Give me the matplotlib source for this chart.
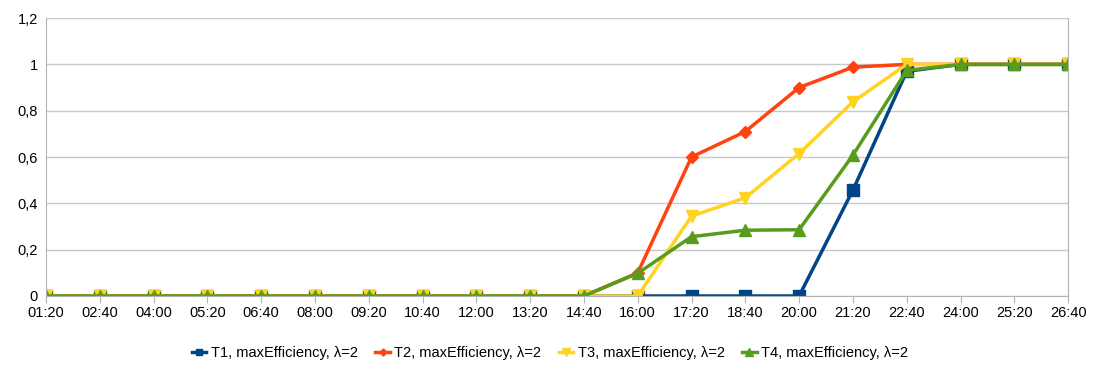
import matplotlib
matplotlib.use("Agg")
import matplotlib.pyplot as plt
from matplotlib.ticker import FuncFormatter

plt.rcParams['font.family'] = ['Liberation Sans', 'DejaVu Sans']

categories = ["01:20", "02:40", "04:00", "05:20", "06:40", "08:00", "09:20", "10:40",
              "12:00", "13:20", "14:40", "16:00", "17:20", "18:40", "20:00", "21:20",
              "22:40", "24:00", "25:20", "26:40"]
t1 = [0]*15 + [0.457, 0.97, 1, 1, 1]
t2 = [0]*11 + [0.1, 0.60, 0.71, 0.90, 0.988, 1, 1, 1, 1]
t3 = [0]*12 + [0.345, 0.424, 0.615, 0.838, 1, 1, 1, 1]
t4 = [0]*11 + [0.098, 0.256, 0.284, 0.286, 0.608, 0.974, 1, 1, 1]

series = [
    ("T1, maxEfficiency, λ=2", t1, "#004586", "s", 8),
    ("T2, maxEfficiency, λ=2", t2, "#ff420e", "D", 6),
    ("T3, maxEfficiency, λ=2", t3, "#ffd320", "v", 9),
    ("T4, maxEfficiency, λ=2", t4, "#579d1c", "^", 9),
]

fig = plt.figure(figsize=(11, 3.76), dpi=100)
ax = fig.add_axes([0.0418, 0.2128, 0.9292, 0.7392])
x = list(range(len(categories)))
for label, vals, color, mk, ms in series:
    ax.plot(x, vals, color=color, marker=mk, markersize=ms, linewidth=2.5, label=label)

ax.set_xlim(0, len(categories) - 1)
ax.set_ylim(0, 1.2)
ax.set_yticks([0, 0.2, 0.4, 0.6, 0.8, 1.0, 1.2])
ax.yaxis.set_major_formatter(FuncFormatter(lambda v, p: ("%g" % round(v, 1)).replace(".", ",")))
ax.set_xticks(x)
ax.set_xticklabels(categories)
ax.grid(axis='y', color='#c8c8c8', linewidth=1)
ax.set_axisbelow(True)
ax.spines['top'].set_visible(False)
for s in ['left', 'right', 'bottom']:
    ax.spines[s].set_color('#b3b3b3')
ax.tick_params(axis='y', length=0, labelsize=10.5, pad=6)
ax.tick_params(axis='x', length=5, color='#b3b3b3', labelsize=10.5, pad=2)

leg = fig.legend(loc='center', bbox_to_anchor=(0.5, 0.061), ncol=4, frameon=False,
                 fontsize=10.5, handlelength=1.0, handletextpad=0.3, columnspacing=1.2,
                 markerscale=0.6)
for line in leg.get_lines():
    line.set_linewidth(2.5)

fig.savefig("out.png", dpi=100)
